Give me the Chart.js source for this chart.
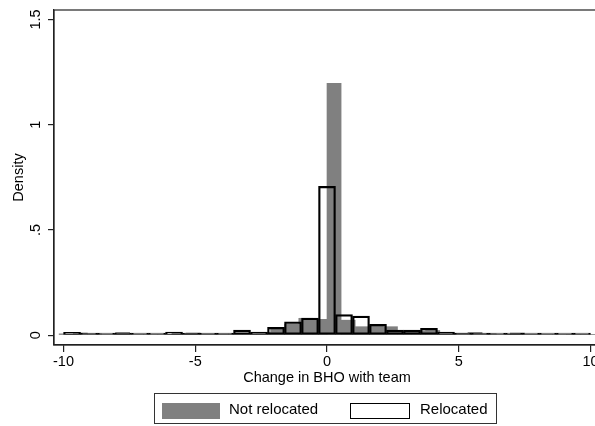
<!DOCTYPE html>
<html>
<head>
<meta charset="utf-8">
<script src="https://cdn.jsdelivr.net/npm/chart.js@4/dist/chart.umd.min.js"></script>
<style>
  body { margin: 0; width: 595px; height: 426px; overflow: hidden; background: #fff; position: relative;
         font-family: "Liberation Sans", Arial, Helvetica, sans-serif; }
  #wrap { position: absolute; left: 0; top: 0; width: 610px; height: 426px; }
  .legend { position: absolute; left: 154px; top: 393px; width: 343px; height: 31px;
            border: 1px solid #333; box-sizing: border-box; }
  .sw { position: absolute; top: 9px; height: 16px; box-sizing: border-box; }
  .lab { position: absolute; top: 6px; font-size: 15px; line-height: 17px; color: #000; white-space: nowrap; }
</style>
</head>
<body>
<div id="wrap"><canvas id="c" width="610" height="426"></canvas></div>
<div class="legend">
  <div class="sw" style="left:7px;width:58px;background:#808080"></div>
  <span class="lab" style="left:74px">Not relocated</span>
  <div class="sw" style="left:195px;width:60px;border:1.5px solid #000;background:#fff"></div>
  <span class="lab" style="left:265px">Relocated</span>
</div>
<script>
// bin centres (Change in BHO with team) and densities
const NOTREL_X = [
  -9.8975, -9.3625, -8.8275, -8.2925, -7.7575, -7.2225, -6.6875, -6.1525, -5.6175, -5.0825,
  -4.5475, -4.0125, -3.4775, -2.9425, -2.4075, -1.8725, -1.3375, -0.8025, -0.2675, 0.2675,
  0.8025, 1.3375, 1.8725, 2.4075, 2.9425, 3.4775, 4.0125, 4.5475, 5.0825, 5.6175,
  6.1525, 6.6875, 7.2225, 7.7575, 8.2925, 8.8275, 9.3625, 9.8975
];
const NOTREL_Y = [
  0.006, 0.010, 0.006, 0.003, 0.013, 0.003, 0.003, 0.003, 0.008, 0.010,
  0.005, 0.005, 0.005, 0.008, 0.012, 0.035, 0.052, 0.080, 0.075, 1.197,
  0.071, 0.040, 0.045, 0.040, 0.018, 0.020, 0.022, 0.012, 0.009, 0.013,
  0.006, 0.003, 0.010, 0.002, 0.003, 0.003, 0.002, 0.002
];
const REL_X = [
  -9.675, -9.03, -8.385, -7.74, -7.095, -6.45, -5.805, -5.16, -4.515, -3.87,
  -3.225, -2.58, -1.935, -1.29, -0.645, 0, 0.645, 1.29, 1.935, 2.58,
  3.225, 3.87, 4.515, 5.16, 5.805, 6.45, 7.095, 7.74, 8.385, 9.03, 9.675
];
const REL_Y = [
  0.013, 0.008, 0.003, 0.010, 0.003, 0.003, 0.014, 0.010, 0.005, 0.005,
  0.024, 0.014, 0.037, 0.063, 0.081, 0.707, 0.098, 0.090, 0.051, 0.024,
  0.024, 0.032, 0.014, 0.009, 0.008, 0.004, 0.010, 0.003, 0.002, 0.003, 0.004
];
const X_TICKS = [-10, -5, 0, 5, 10];
const Y_TICKS = [0, 0.5, 1, 1.5];
const Y_LABELS = ['0', '.5', '1', '1.5'];

const FONT = '"Liberation Sans", Arial, Helvetica, sans-serif';
const AXIS = '#222';

const frame = {
  id: 'frame',
  afterDatasetsDraw(chart) {
    const { ctx, chartArea: a } = chart;
    ctx.save();
    ctx.strokeStyle = AXIS;
    ctx.lineWidth = 1.2;
    ctx.strokeRect(a.left, a.top, a.right - a.left, a.bottom - a.top);
    // rotated y tick labels, Stata style
    const ys = chart.scales.y;
    ctx.fillStyle = '#000';
    ctx.font = '14.5px ' + FONT;
    ctx.textAlign = 'center';
    ctx.textBaseline = 'middle';
    Y_TICKS.forEach((v, i) => {
      ctx.save();
      ctx.translate(36, ys.getPixelForValue(v));
      ctx.rotate(-Math.PI / 2);
      ctx.fillText(Y_LABELS[i], 0, 0);
      ctx.restore();
    });
    ctx.restore();
  }
};

const fixTicks = list => s => { s.ticks = list.map(v => ({ value: v })); };

new Chart(document.getElementById('c'), {
  type: 'bar',
  data: {
    datasets: [
      {
        label: 'Relocated',
        xAxisID: 'x2',
        data: REL_X.map((x, i) => ({ x, y: REL_Y[i] })),
        backgroundColor: 'rgba(0,0,0,0)',
        borderColor: '#000',
        borderWidth: 1.6,
        borderSkipped: false,
        minBarLength: 2,
        grouped: false,
        barPercentage: 1,
        categoryPercentage: 1,
        order: 0
      },
      {
        label: 'Not relocated',
        xAxisID: 'x',
        data: NOTREL_X.map((x, i) => ({ x, y: NOTREL_Y[i] })),
        backgroundColor: '#808080',
        borderWidth: 0,
        grouped: false,
        barPercentage: 1,
        categoryPercentage: 1,
        order: 1
      }
    ]
  },
  options: {
    responsive: false,
    animation: false,
    layout: { padding: { top: 10, right: 10, bottom: 38, left: 0 } },
    plugins: { legend: { display: false }, tooltip: { enabled: false } },
    scales: {
      x: {
        type: 'linear', min: -10.36, max: 10.36, offset: false,
        afterBuildTicks: fixTicks(X_TICKS),
        afterFit: s => { s.height = 43; },
        border: { display: true, color: AXIS, width: 1.2 },
        grid: { offset: false, drawOnChartArea: false, drawTicks: true, tickLength: 7, color: AXIS, lineWidth: 1.2 },
        ticks: { color: '#000', font: { family: FONT, size: 14.5 }, padding: 1, maxRotation: 0,
                 callback: v => String(v) },
        title: { display: true, text: 'Change in BHO with team', color: '#000',
                 font: { family: FONT, size: 14.5 }, padding: { top: 0, bottom: 1 } }
      },
      x2: {
        type: 'linear', min: -10.36, max: 10.36, display: false, offset: false,
        grid: { offset: false },
        afterBuildTicks: fixTicks(X_TICKS)
      },
      y: {
        min: -0.047, max: 1.545,
        afterBuildTicks: fixTicks(Y_TICKS),
        afterFit: s => { s.width = 54; },
        border: { display: true, color: AXIS, width: 1.2 },
        grid: { drawOnChartArea: false, drawTicks: true, tickLength: 6, color: AXIS, lineWidth: 1.2 },
        ticks: { display: false },
        title: { display: true, text: 'Density', color: '#000',
                 font: { family: FONT, size: 14.5 }, padding: { top: 10, bottom: 0 } }
      }
    }
  },
  plugins: [frame]
});
</script>
</body>
</html>
